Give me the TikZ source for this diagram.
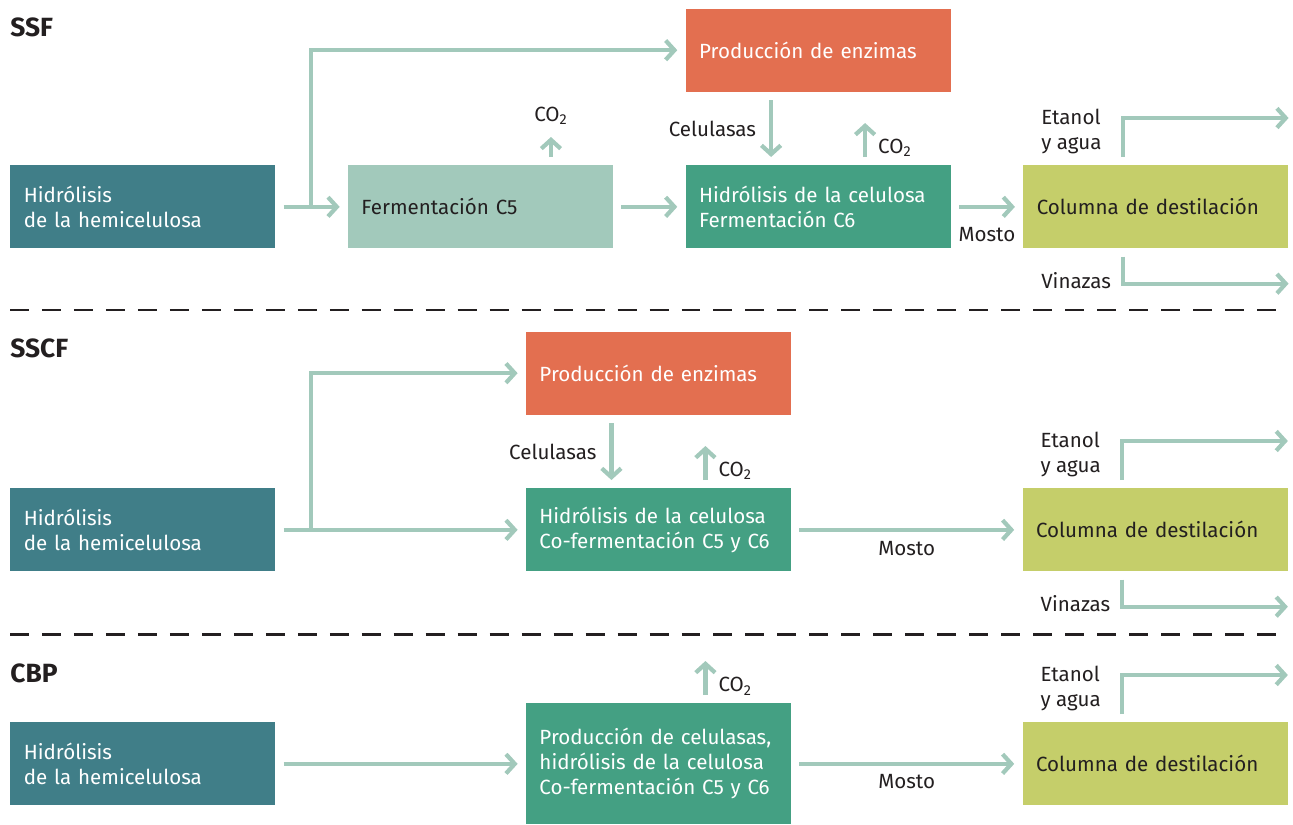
\documentclass[tikz,border=0pt]{standalone}
\usepackage{fontspec}
\setmainfont{Fira Sans}
\usetikzlibrary{positioning,arrows.meta}
\definecolor{softpetrol}{HTML}{407E88}
\definecolor{softmint}{HTML}{A2C9BB}
\definecolor{softcoral}{HTML}{E36F50}
\definecolor{softjade}{HTML}{44A083}
\definecolor{softlime}{HTML}{C5CE6A}
\definecolor{ink}{HTML}{231F20}

\begin{document}
\begin{tikzpicture}[x=0.02cm,y=-0.02cm,node distance=1.44cm,
  box/.style={minimum height=1.66cm,text width=4.76cm,inner xsep=.27cm,inner ysep=0pt,align=left,font=\fontsize{11.7}{14.2}\selectfont},
  flow/.style={draw=softmint,line width=2.4pt,-{Straight Barb[length=5pt,width=11pt]},shorten >=.16cm,shorten <=.16cm},
  lbl/.style={inner sep=0pt,text=ink,font=\fontsize{11.7}{14.2}\selectfont},
  title/.style={inner sep=0pt,text=ink,font=\fontsize{15}{18}\selectfont\bfseries},
  sep/.style={draw=ink,line width=1.7pt,dash pattern=on 10.8pt off 7.4pt}]
\useasboundingbox (0,0) rectangle (1293,824);

% SSF
\node[title,anchor=north west] (tssf) at (10,17) {SSF};
\node[box,fill=softpetrol,text=white,anchor=north west] (hemi) at (10,165) {Hidrólisis\\de la hemicelulosa};
\node[box,fill=softmint,text=ink,right=of hemi] (ferm) {Fermentación C5};
\node[box,fill=softjade,text=white,right=of ferm] (hyd) {Hidrólisis de la celulosa\\Fermentación C6};
\node[box,fill=softlime,text=ink,right=of hyd] (col) {Columna de destilación};
\node[box,fill=softcoral,text=white,above=1.46cm of hyd] (enz) {Producción de enzimas};
\draw[flow] (hemi) -- (ferm);
\draw[flow,shorten <=0pt] ([xshift=.7cm]hemi.east) |- (enz.west);
\draw[flow] (ferm) -- (hyd);
\draw[flow] (hyd) -- (col) node[midway,below=.36cm,lbl] {Mosto};
\draw[flow] ([xshift=-.94cm]enz.south) -- ([xshift=-.94cm]hyd.north) node[midway,left=.26cm,lbl] {Celulasas};
\coordinate (co2a) at ([xshift=1.41cm,yshift=.56cm]ferm.north);
\draw[flow,shorten >=0pt] ([xshift=1.41cm]ferm.north) -- (co2a) node[above=.2cm,lbl] {CO\textsubscript{2}};
\coordinate (co2b) at ([xshift=.94cm,yshift=.84cm]hyd.north);
\draw[flow,shorten >=0pt] ([xshift=.94cm]hyd.north) -- (co2b) node[pos=.4,right=.22cm,lbl] {CO\textsubscript{2}};
\coordinate (eta) at ([yshift=.94cm]col.north east);
\draw[flow,shorten >=0pt] ([xshift=-.66cm]col.north) |- (eta);
\node[lbl,align=left,anchor=south west] (etl) at ([xshift=.36cm,yshift=.22cm]col.north west) {Etanol\\y agua};
\coordinate (vina) at ([yshift=-.7cm]col.south east);
\draw[flow,shorten >=0pt] ([xshift=-.66cm]col.south) |- (vina);
\node[lbl,anchor=north west] (vil) at ([xshift=.36cm,yshift=-.46cm]col.south west) {Vinazas};

\draw[sep] (10,310) -- (1283,310);

% SSCF
\node[title,anchor=north west] (tsscf) at (10,338) {SSCF};
\node[box,fill=softpetrol,text=white,anchor=north west] (hemi2) at (10,488) {Hidrólisis\\de la hemicelulosa};
\node[box,fill=softjade,text=white,right=5cm of hemi2] (hyd2) {Hidrólisis de la celulosa\\Co-fermentación C5 y C6};
\node[box,fill=softlime,text=ink,right=4.62cm of hyd2] (col2) {Columna de destilación};
\node[box,fill=softcoral,text=white,above=1.46cm of hyd2] (enz2) {Producción de enzimas};
\draw[flow] (hemi2) -- (hyd2);
\draw[flow,shorten <=0pt] ([xshift=.7cm]hemi2.east) |- (enz2.west);
\draw[flow] (hyd2) -- (col2) node[midway,below=.18cm,lbl] {Mosto};
\draw[flow] ([xshift=-.94cm]enz2.south) -- ([xshift=-.94cm]hyd2.north) node[midway,left=.26cm,lbl] {Celulasas};
\coordinate (co2c) at ([xshift=.94cm,yshift=.84cm]hyd2.north);
\draw[flow,shorten >=0pt] ([xshift=.94cm]hyd2.north) -- (co2c) node[pos=.4,right=.22cm,lbl] {CO\textsubscript{2}};
\coordinate (eta2) at ([yshift=.94cm]col2.north east);
\draw[flow,shorten >=0pt] ([xshift=-.66cm]col2.north) |- (eta2);
\node[lbl,align=left,anchor=south west] (etl2) at ([xshift=.36cm,yshift=.22cm]col2.north west) {Etanol\\y agua};
\coordinate (vina2) at ([yshift=-.7cm]col2.south east);
\draw[flow,shorten >=0pt] ([xshift=-.66cm]col2.south) |- (vina2);
\node[lbl,anchor=north west] (vil2) at ([xshift=.36cm,yshift=-.46cm]col2.south west) {Vinazas};

\draw[sep] (10,634) -- (1283,634);

% CBP
\node[title,anchor=north west] (tcbp) at (10,663) {CBP};
\node[box,fill=softpetrol,text=white,anchor=north west] (hemi3) at (10,722) {Hidrólisis\\de la hemicelulosa};
\node[box,fill=softjade,text=white,minimum height=2.42cm,right=5cm of hemi3] (cbp) {Producción de celulasas,\\hidrólisis de la celulosa\\Co-fermentación C5 y C6};
\node[box,fill=softlime,text=ink,right=4.62cm of cbp] (col3) {Columna de destilación};
\draw[flow] (hemi3) -- (cbp);
\draw[flow] (cbp) -- (col3) node[midway,below=.16cm,lbl] {Mosto};
\coordinate (co2d) at ([xshift=.94cm,yshift=.84cm]cbp.north);
\draw[flow,shorten >=0pt] ([xshift=.94cm]cbp.north) -- (co2d) node[pos=.4,right=.22cm,lbl] {CO\textsubscript{2}};
\coordinate (eta3) at ([yshift=.94cm]col3.north east);
\draw[flow,shorten >=0pt] ([xshift=-.66cm]col3.north) |- (eta3);
\node[lbl,align=left,anchor=south west] (etl3) at ([xshift=.36cm,yshift=.22cm]col3.north west) {Etanol\\y agua};
\end{tikzpicture}
\end{document}
